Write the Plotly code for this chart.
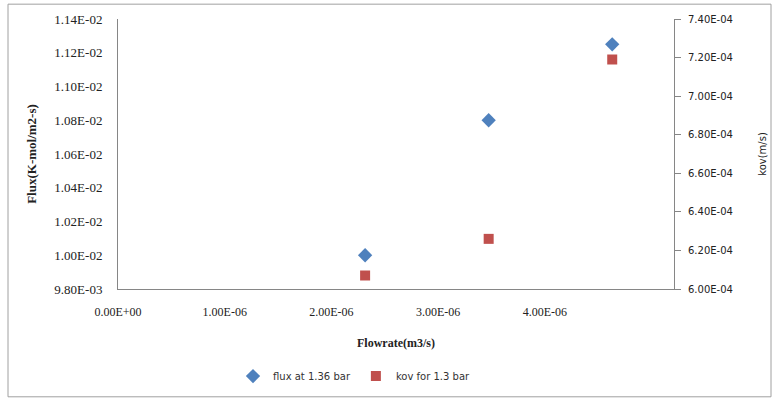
import plotly.graph_objects as go

flowrate = [2.0e-6, 3.0e-6, 4.0e-6]
flux = [1.000e-2, 1.080e-2, 1.125e-2]
kov = [6.07e-4, 6.26e-4, 7.19e-4]

x_ticks = [0.0, 1e-6, 2e-6, 3e-6, 4e-6]
flux_ticks = [9.8e-3 + i * 2e-4 for i in range(9)]
kov_ticks = [6.0e-4 + i * 2e-5 for i in range(8)]

W, H = 775, 403
L, R, T, B = 118, 775 - 674, 19, 403 - 292
pw, ph = W - L - R, H - T - B

serif = "Liberation Serif"
sans = "DejaVu Sans"
axis_col = "#868686"

fig = go.Figure()
fig.add_trace(go.Scatter(
    x=flowrate, y=flux, mode="markers", name="flux at 1.36 bar",
    marker=dict(symbol="diamond", size=11, color="#4F81BD"),
))
fig.add_trace(go.Scatter(
    x=flowrate, y=kov, mode="markers", name="kov for 1.3 bar", yaxis="y2",
    marker=dict(symbol="square", size=10, color="#C0504D"),
))
# empty trace so the label axis x2 gets drawn
fig.add_trace(go.Scatter(x=[], y=[], xaxis="x2", showlegend=False, hoverinfo="skip"))

fig.update_layout(
    width=W, height=H,
    margin=dict(l=L, r=R, t=T, b=B),
    paper_bgcolor="white", plot_bgcolor="white",
    showlegend=True,
    legend=dict(orientation="h", x=(233 - L) / pw, xanchor="left",
                y=-(380 - 292) / ph, yanchor="middle",
                font=dict(family=sans, size=10, color="#333333"), itemwidth=30),
    # data lives on this axis, the visible labels come from x2
    xaxis=dict(range=[0, 4.5e-6], showticklabels=False, showgrid=False,
               zeroline=False, showline=False, automargin=False),
    xaxis2=dict(overlaying="x", side="bottom", anchor="y", range=[0, 5.21e-6],
                tickvals=x_ticks, ticktext=[f"{v:.2E}" for v in x_ticks],
                showgrid=False, zeroline=False, showline=True, linecolor=axis_col,
                ticks="outside", ticklen=12, tickcolor="rgba(0,0,0,0)", automargin=False,
                tickfont=dict(family=serif, size=12, color="#222"),
                title=dict(text="<b>Flowrate(m3/s)</b>", standoff=20,
                           font=dict(family=serif, size=12, color="#222"))),
    yaxis=dict(range=[9.8e-3, 1.14e-2], tickvals=flux_ticks,
               ticktext=[f"{v:.2E}" for v in flux_ticks],
               showgrid=False, zeroline=False, showline=True, linecolor=axis_col,
               ticks="outside", ticklen=12, tickcolor="rgba(0,0,0,0)", automargin=False,
               tickfont=dict(family=serif, size=13, color="#222"),
               title=dict(text="<b>Flux(K-mol/m2-s)</b>", standoff=14,
                          font=dict(family=serif, size=13, color="#222"))),
    yaxis2=dict(overlaying="y", side="right", range=[6.0e-4, 7.4e-4],
                tickvals=kov_ticks, ticktext=[f"{v:.2E}" for v in kov_ticks],
                showgrid=False, zeroline=False, showline=True, linecolor=axis_col,
                ticks="outside", ticklen=6, tickcolor=axis_col, automargin=False,
                ticklabelstandoff=5,
                tickfont=dict(family=sans, size=10, color="#222"),
                title=dict(text="kov(m/s)", standoff=27,
                           font=dict(family=sans, size=10, color="#222"))),
)

# chart area border
fig.add_shape(type="rect", xref="paper", yref="paper",
              x0=(8 - L) / pw, x1=(771 - L) / pw,
              y0=(H - B - 401) / ph, y1=(H - B - 4) / ph,
              line=dict(color="#A0A0A0", width=1), layer="below")

# drop the default 8px body margin so the figure sits at the window origin
fig.write_html("out.html", config={"displayModeBar": False},
               post_script="document.body.style.margin='0';")
